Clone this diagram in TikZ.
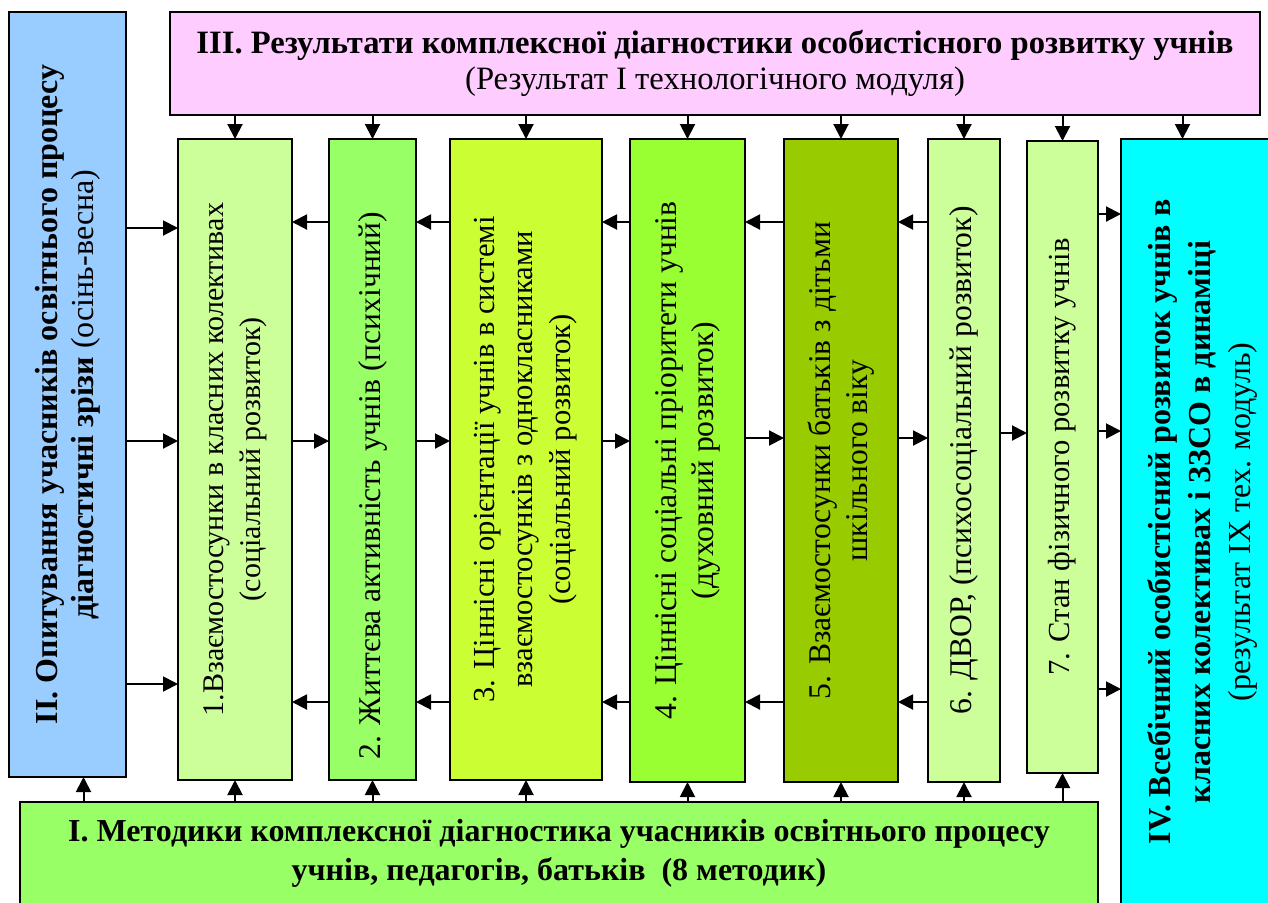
\documentclass[tikz,border=0pt]{standalone}
\usepackage{fontspec}
\setmainfont{Liberation Serif}
\usetikzlibrary{arrows.meta}

\definecolor{opitblue}{HTML}{99CCFF}
\definecolor{rezpink}{HTML}{FFCCFF}
\definecolor{palegreen}{HTML}{CCFF99}
\definecolor{lightgreen}{HTML}{99FF66}
\definecolor{limegreen}{HTML}{CCFF33}
\definecolor{brightgreen}{HTML}{99FF33}
\definecolor{olivegreen}{HTML}{99CC00}
\definecolor{vsebcyan}{HTML}{00FFFF}

\tikzset{
  box/.style={draw, line width=1pt, inner sep=0pt, outer sep=0pt},
  arr/.style={-{Triangle[length=7.5pt,width=7.5pt]}, line width=1pt},
}

\begin{document}
\begin{tikzpicture}[x=0.5pt, y=-0.5pt, font=\fontsize{15.8}{18.5}\selectfont]
    \useasboundingbox (0,0) rectangle (1268,902);

    % Outer blocks
    \node[box, fill=opitblue, minimum width=58.5pt, minimum height=382.5pt] (opit) at (67.5,394.5) {};
    \node[box, fill=rezpink, minimum width=545pt, minimum height=51.5pt] (rez) at (715,63.5) {};
    \node[box, fill=lightgreen, minimum width=539pt, minimum height=51pt] (metod) at (559,853) {};
    \node[box, fill=vsebcyan, minimum width=81.5pt, minimum height=383pt] (vseb) at (1202.5,522) {};

    % Seven directions
    \node[box, fill=palegreen, minimum width=57pt, minimum height=320.5pt] (b1) at (235,459.5) {};
    \node[box, fill=lightgreen, minimum width=43.5pt, minimum height=320.5pt] (b2) at (372.5,459.5) {};
    \node[box, fill=limegreen, minimum width=76pt, minimum height=320.5pt] (b3) at (526,459.5) {};
    \node[box, fill=brightgreen, minimum width=57.5pt, minimum height=321.5pt] (b4) at (687.5,460.5) {};
    \node[box, fill=olivegreen, minimum width=57pt, minimum height=321.5pt] (b5) at (841,460.5) {};
    \node[box, fill=palegreen, minimum width=36pt, minimum height=321.5pt] (b6) at (964,460.5) {};
    \node[box, fill=palegreen, minimum width=35.5pt, minimum height=316pt] (b7) at (1062.5,457) {};

    % Texts
    \node[align=center, font=\fontsize{16.3}{18}\selectfont] (trez) at (rez) {\textbf{III. Результати комплексної діагностики особистісного розвитку учнів}\\(Результат I технологічного модуля)};
    \node[align=center, font=\fontsize{16}{19.5}\selectfont\bfseries] (tmetod) at (metod) {І. Методики комплексної діагностика учасників освітнього процесу\\учнів, педагогів, батьків~~(8 методик)};
    \node[rotate=90, align=center, font=\fontsize{16}{18}\selectfont] (topit) at (opit) {\textbf{II. Опитування учасників освітнього процесу}\\\textbf{діагностичні зрізи} (осінь-весна)};
    \node[rotate=90, align=center, font=\fontsize{16}{20}\selectfont] (tvseb) at (vseb) {\textbf{IV. Всебічний особистісний розвиток учнів в}\\\textbf{класних колективах і ЗЗСО в динаміці}\\(результат IX тех. модуль)};
    \node[rotate=90, align=center, font=\fontsize{15}{18.5}\selectfont] (t1) at (b1) {1.Взаємостосунки в класних колективах\\(соціальний розвиток)};
    \node[rotate=90, align=center] (t2) at ([yshift=-13pt]b2.center) {2. Життєва активність учнів (психічний)};
    \node[rotate=90, align=center, font=\fontsize{15.3}{19}\selectfont] (t3) at (b3) {3. Ціннісні орієнтації учнів в системі\\взаємостосунків з однокласниками\\(соціальний розвиток)};
    \node[rotate=90, align=center] (t4) at (b4) {4. Ціннісні соціальні пріоритети учнів\\(духовний розвиток)};
    \node[rotate=90, align=center] (t5) at (b5) {5. Взаємостосунки батьків з дітьми\\шкільного віку};
    \node[rotate=90, align=center] (t6) at (b6) {6. ДВОР, (психосоціальний розвиток)};
    \node[rotate=90, align=center, font=\fontsize{15.3}{18.5}\selectfont] (t7) at (b7) {7. Стан фізичного розвитку учнів};

    % From results down
    \draw[arr] (rez.south -| b1) -- (b1);
    \draw[arr] (rez.south -| b2) -- (b2);
    \draw[arr] (rez.south -| b3) -- (b3);
    \draw[arr] (rez.south -| b4) -- (b4);
    \draw[arr] (rez.south -| b5) -- (b5);
    \draw[arr] (rez.south -| b6) -- (b6);
    \draw[arr] (rez.south -| b7) -- (b7.north);
    \draw[arr] ([xshift=-10pt]vseb.north |- rez.south) -- ([xshift=-10pt]vseb.north);

    % From methods up
    \draw[arr] ([xshift=8pt]opit.south |- metod.north) -- ([xshift=8pt]opit.south);
    \draw[arr] (metod.north -| b1) -- (b1);
    \draw[arr] (metod.north -| b2) -- (b2);
    \draw[arr] (metod.north -| b3) -- (b3);
    \draw[arr] (metod.north -| b4) -- (b4);
    \draw[arr] (metod.north -| b5) -- (b5);
    \draw[arr] (metod.north -| b6) -- (b6);
    \draw[arr] (metod.north -| b7) -- (b7.south);

    % Upper row
    \draw[arr] (opit.east |- 0,228) -- (b1.west |- 0,228);
    \draw[arr] (b2.west |- 0,222) -- (b1.east |- 0,222);
    \draw[arr] (b3.west |- 0,222) -- (b2.east |- 0,222);
    \draw[arr] (b4.west |- 0,222) -- (b3.east |- 0,222);
    \draw[arr] (b5.west |- 0,222) -- (b4.east |- 0,222);
    \draw[arr] (b6.west |- 0,222) -- (b5.east |- 0,222);
    \draw[arr] (b7.east |- 0,214) -- (vseb.west |- 0,214);

    % Middle row
    \draw[arr] (opit.east |- 0,441) -- (b1.west |- 0,441);
    \draw[arr] (b1.east |- 0,441) -- (b2.west |- 0,441);
    \draw[arr] (b2.east |- 0,441) -- (b3.west |- 0,441);
    \draw[arr] (b3.east |- 0,441) -- (b4.west |- 0,441);
    \draw[arr] (b4.east |- 0,438) -- (b5.west |- 0,438);
    \draw[arr] (b5.east |- 0,438) -- (b6.west |- 0,438);
    \draw[arr] (b6.east |- 0,433) -- (b7.west |- 0,433);
    \draw[arr] (b7.east |- 0,431) -- (vseb.west |- 0,431);

    % Lower row
    \draw[arr] (opit.east |- 0,684) -- (b1.west |- 0,684);
    \draw[arr] (b2.west |- 0,702) -- (b1.east |- 0,702);
    \draw[arr] (b3.west |- 0,702) -- (b2.east |- 0,702);
    \draw[arr] (b4.west |- 0,702) -- (b3.east |- 0,702);
    \draw[arr] (b5.west |- 0,702) -- (b4.east |- 0,702);
    \draw[arr] (b6.west |- 0,702) -- (b5.east |- 0,702);
    \draw[arr] (b7.east |- 0,689) -- (vseb.west |- 0,689);
\end{tikzpicture}
\end{document}
